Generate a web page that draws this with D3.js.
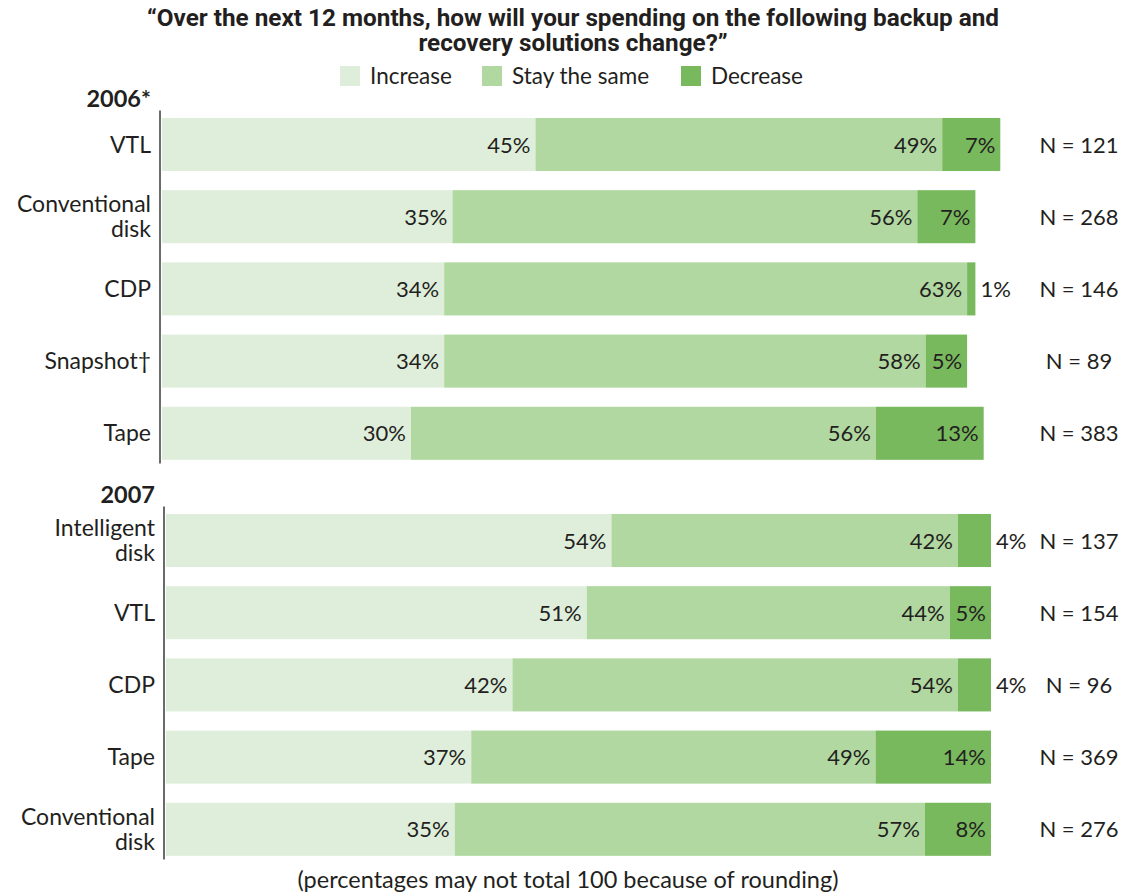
<!DOCTYPE html>
<html>
<head>
<meta charset="utf-8">
<script src="https://cdn.jsdelivr.net/npm/d3@7"></script>
<style>
  html, body { margin: 0; padding: 0; background: #fff; }
  svg { display: block; }
  text { fill: #231f20; }
</style>
</head>
<body>
<svg id="chart" width="1123" height="894"></svg>
<script>
// ---- data ----
const seriesNames = ["Increase", "Stay the same", "Decrease"];
const seriesColors = ["#dfeedb", "#b1d8a0", "#79b95e"];

const cats2006 = ["VTL", "Conventional\ndisk", "CDP", "Snapshot†", "Tape"];
const increase2006 = [45, 35, 34, 34, 30];
const same2006 = [49, 56, 63, 58, 56];
const decrease2006 = [7, 7, 1, 5, 13];
const n2006 = [121, 268, 146, 89, 383];

const cats2007 = ["Intelligent\ndisk", "VTL", "CDP", "Tape", "Conventional\ndisk"];
const increase2007 = [54, 51, 42, 37, 35];
const same2007 = [42, 44, 54, 49, 57];
const decrease2007 = [4, 5, 4, 14, 8];
const n2007 = [137, 154, 96, 369, 276];

const titleLines = ["\u201cOver the next 12 months, how will your spending on the following backup and", "recovery solutions change?\u201d"];
const footnote = "(percentages may not total 100 because of rounding)";

// ---- drawing ----
const svg = d3.select("#chart");
const condensed = "'Liberation Sans Narrow', 'Arial Narrow', Roboto, sans-serif";
const regular = "Lato, 'Open Sans', sans-serif";

svg.selectAll("text.title").data(titleLines).enter().append("text")
  .attr("x", 573).attr("y", (d, i) => 26 + i * 25)
  .attr("text-anchor", "middle")
  .style("font-family", condensed).style("font-weight", "bold").style("font-size", "24.3px")
  .text(d => d);

// legend
const legendX = [340, 482, 681];
const lg = svg.append("g");
seriesNames.forEach((s, i) => {
  lg.append("rect").attr("x", legendX[i]).attr("y", 66).attr("width", 20).attr("height", 20).attr("fill", seriesColors[i]);
  lg.append("text").attr("x", legendX[i] + 30).attr("y", 84)
    .style("font-family", regular).style("font-size", "22.5px").text(s);
});

function panel(cfg) {
  const g = svg.append("g").attr("transform", `translate(${cfg.x0},0)`);
  const x = d3.scaleLinear().domain([0, 100]).range([0, cfg.w]);
  const y = d3.scaleBand().domain(cfg.cats).range([cfg.y0, cfg.y0 + 361])
    .paddingInner(0.265).paddingOuter(0.1325);
  const rows = cfg.cats.map((c, i) => ({ cat: c, vals: [cfg.inc[i], cfg.same[i], cfg.dec[i]], n: cfg.n[i] }));
  const stack = rows.map(r => {
    let acc = 0;
    return r.vals.map((v, k) => { const s = { cat: r.cat, v, k, x0: acc, x1: acc + v }; acc += v; return s; });
  });

  const rowG = g.selectAll("g.row").data(rows).enter().append("g").attr("class", "row");
  rowG.each(function (r, i) {
    const rg = d3.select(this);
    const segs = stack[i];
    rg.selectAll("rect").data(segs).enter().append("rect")
      .attr("x", d => x(d.x0)).attr("width", d => x(d.x1) - x(d.x0))
      .attr("y", y(r.cat)).attr("height", y.bandwidth())
      .attr("fill", d => seriesColors[d.k]);
    const cy = y(r.cat) + y.bandwidth() / 2;
    rg.selectAll("text.val").data(segs).enter().append("text").attr("class", "val")
      .attr("x", d => d.v < 5 && d.k === 2 ? x(d.x1) + 5 : x(d.x1) - 5)
      .attr("y", cy + 8)
      .attr("text-anchor", d => d.v < 5 && d.k === 2 ? "start" : "end")
      .style("font-family", regular).style("font-size", "22px")
      .text(d => d.v + "%");
    // category label
    const lines = r.cat.split("\n");
    const t = rg.append("text").attr("text-anchor", "end")
      .style("font-family", regular).style("font-size", "23px");
    lines.forEach((ln, j) => {
      t.append("tspan").attr("x", -11).attr("y", cy + 8 + (j - (lines.length - 1) / 2) * 24.5).text(ln);
    });
    rg.append("text").attr("x", 1079 - cfg.x0).attr("y", cy + 8).attr("text-anchor", "middle")
      .style("font-family", regular).style("font-size", "22px")
      .text("N = " + r.n);
  });

  g.append("line").attr("x1", -2).attr("x2", -2).attr("y1", cfg.y0 + 2).attr("y2", cfg.y0 + 355)
    .attr("stroke", "#3a3a3a").attr("stroke-width", 1.5);
  g.append("text").attr("x", -11).attr("y", cfg.y0 - 1).attr("text-anchor", "end")
    .style("font-family", regular).style("font-weight", "bold").style("font-size", "23.5px")
    .text(cfg.header);
}

panel({ x0: 162, w: 830, y0: 108.4, cats: cats2006, inc: increase2006, same: same2006, dec: decrease2006, n: n2006, header: "2006*" });
panel({ x0: 166, w: 825, y0: 504.4, cats: cats2007, inc: increase2007, same: same2007, dec: decrease2007, n: n2007, header: "2007" });

svg.append("text").attr("x", 568).attr("y", 888).attr("text-anchor", "middle")
  .style("font-family", regular).style("font-size", "23.5px").text(footnote);
</script>
</body>
</html>
